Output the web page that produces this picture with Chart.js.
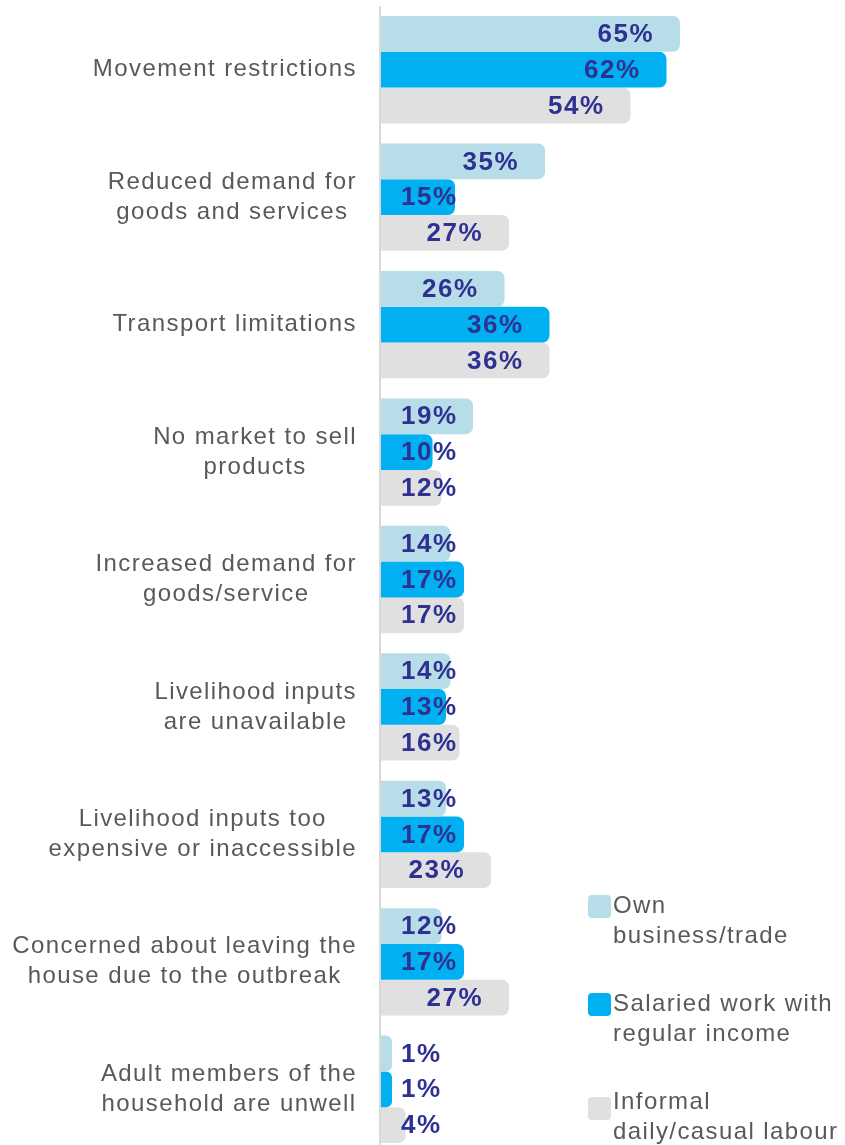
<!DOCTYPE html>
<html>
<head>
<meta charset="utf-8">
<script src="https://cdn.jsdelivr.net/npm/chart.js@4"></script>
<style>
  html, body { margin: 0; padding: 0; background: #fff; overflow: hidden; }
  #wrap { width: 845px; height: 1153px; }
</style>
</head>
<body>
<div id="wrap"><canvas id="chart" width="845" height="1153"></canvas></div>
<script>
/* ---------------- DATA ---------------- */
const categories = [
  ["Movement restrictions"],
  ["Reduced demand for", "goods and services"],
  ["Transport limitations"],
  ["No market to sell", "products"],
  ["Increased demand for", "goods/service"],
  ["Livelihood inputs", "are unavailable"],
  ["Livelihood inputs too", "expensive or inaccessible"],
  ["Concerned about leaving the", "house due to the outbreak"],
  ["Adult members of the", "household are unwell"]
];
const ownBusiness = [65, 35, 26, 19, 14, 14, 13, 12, 1];
const salaried    = [62, 15, 36, 10, 17, 13, 17, 17, 1];
const informal    = [54, 27, 36, 12, 17, 16, 23, 27, 4];
const seriesNames = [
  ["Own", "business/trade"],
  ["Salaried work with", "regular income"],
  ["Informal", "daily/casual labour"]
];

/* --------------- STYLE --------------- */
const COLORS     = ["#B7DEE8", "#00B0F0", "#E0E0E0"];
const LABEL_CLR  = "#2E3192";
const TEXT_CLR   = "#595959";
const AXIS_CLR   = "#D9D9D9";
const CAT_FONT   = "24px 'Liberation Sans', Arial, sans-serif";
const VAL_FONT   = "bold 26px 'Liberation Sans', Arial, sans-serif";
const X_MIN      = -1.67;

/* ---------- custom drawing plugin ---------- */
const decor = {
  id: "decor",
  afterDatasetsDraw(chart) {
    const { ctx, chartArea, scales: { y } } = chart;

    // axis line
    ctx.save();
    ctx.strokeStyle = AXIS_CLR;
    ctx.lineWidth = 2;
    ctx.beginPath();
    ctx.moveTo(chartArea.left, chartArea.top);
    ctx.lineTo(chartArea.left, chartArea.bottom);
    ctx.stroke();

    // value labels
    ctx.font = VAL_FONT;
    ctx.letterSpacing = "1.5px";
    ctx.fillStyle = LABEL_CLR;
    ctx.textAlign = "right";
    ctx.textBaseline = "middle";
    chart.data.datasets.forEach((ds, di) => {
      chart.getDatasetMeta(di).data.forEach((bar, i) => {
        const txt = ds.data[i] + "%";
        const w = ctx.measureText(txt).width;
        const right = Math.max(bar.x - 26, chartArea.left + 21 + w);
        ctx.fillText(txt, right, bar.y + 1);
      });
    });

    // category labels: block right-aligned, lines centred inside it
    ctx.font = CAT_FONT;
    ctx.letterSpacing = "1.4px";
    ctx.fillStyle = TEXT_CLR;
    ctx.textAlign = "center";
    categories.forEach((lines, i) => {
      const cy = y.getPixelForTick(i);
      const bw = Math.max(...lines.map(l => ctx.measureText(l).width));
      const cx = 357 - bw / 2;
      const lh = 30;
      lines.forEach((l, k) => {
        ctx.fillText(l, cx, cy + (k - (lines.length - 1) / 2) * lh);
      });
    });

    // legend
    const markerY = [906, 1004, 1108];
    const textY   = [906, 1004, 1102];
    ctx.textAlign = "left";
    seriesNames.forEach((lines, i) => {
      ctx.fillStyle = COLORS[i];
      ctx.beginPath();
      ctx.roundRect(588, markerY[i] - 11, 23, 23, 4);
      ctx.fill();
      ctx.fillStyle = TEXT_CLR;
      lines.forEach((l, k) => ctx.fillText(l, 613, textY[i] + k * 30));
    });
    ctx.restore();
  }
};

/* ----------------- BOOT ----------------- */
const mkSet = (label, data, i) => ({
  label: label.join(" "),
  data,
  backgroundColor: COLORS[i],
  base: X_MIN,
  borderRadius: 7,
  borderSkipped: "start",
  categoryPercentage: 0.842,
  barPercentage: 1
});

new Chart(document.getElementById("chart"), {
  type: "bar",
  data: {
    labels: categories,
    datasets: [
      mkSet(seriesNames[0], ownBusiness, 0),
      mkSet(seriesNames[1], salaried, 1),
      mkSet(seriesNames[2], informal, 2)
    ]
  },
  options: {
    indexAxis: "y",
    responsive: false,
    animation: false,
    layout: { padding: { top: 6, right: 0, bottom: 0, left: 0 } },
    scales: {
      x: { display: false, min: X_MIN, max: 101.67 },
      y: {
        ticks: { display: false },
        grid: { display: false },
        border: { display: false },
        afterFit: s => { s.width = 380; }
      }
    },
    plugins: { legend: { display: false }, tooltip: { enabled: false } }
  },
  plugins: [decor]
});
</script>
</body>
</html>
